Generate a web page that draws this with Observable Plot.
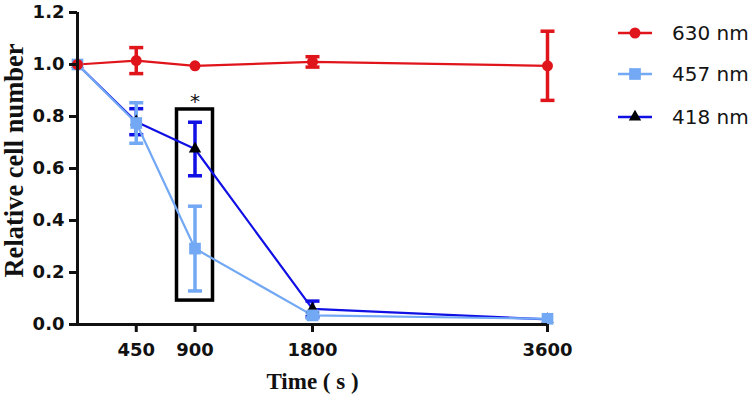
<!DOCTYPE html>
<html><head><meta charset="utf-8">
<script src="https://cdn.jsdelivr.net/npm/d3@7"></script>
<script src="https://cdn.jsdelivr.net/npm/@observablehq/plot@0.6"></script>
<style>
html,body{margin:0;padding:0;background:#fff;}
#wrap{position:relative;width:755px;height:401px;overflow:hidden;}
.item{position:absolute;left:608px;height:30px;display:flex;align-items:center;font-family:"DejaVu Sans";font-size:20px;color:#141414;white-space:nowrap;}
.item svg{margin-right:20px;}
</style></head><body><div id="wrap"></div>
<script>
// ---- data ----
const times = [0, 450, 900, 1800, 3600];
const xTicks = [450, 900, 1800, 3600];
const yTicks = [0, 0.2, 0.4, 0.6, 0.8, 1.0, 1.2];
const seriesNames = ["630 nm", "457 nm", "418 nm"];
const mean630 = [1.0, 1.015, 0.995, 1.01, 0.995];
const err630  = [0, 0.05, 0, 0.02, 0.133];
const mean457 = [1.0, 0.775, 0.292, 0.035, 0.022];
const err457  = [0, 0.078, 0.163, 0.01, 0];
const mean418 = [1.0, 0.78, 0.675, 0.06, 0.02];
const err418  = [0, 0.05, 0.103, 0.03, 0];
const highlightTime = [900];
const highlightLow = [0.092];
const highlightHigh = [0.827];
const highlightLabel = ["*"];
const xLabel = "Time ( s )";
const yLabel = "Relative cell number";

// ---- styles ----
const styles = {
  "630 nm": {color: "#e0141b", symbol: "circle", fill: "#e0141b", r: 5.5},
  "457 nm": {color: "#72a8f4", symbol: "square", fill: "#72a8f4", r: 6.6},
  "418 nm": {color: "#1010e4", symbol: "triangle", fill: "#000000", r: 4.6}
};
const means = {"630 nm": mean630, "457 nm": mean457, "418 nm": mean418};
const errs = {"630 nm": err630, "457 nm": err457, "418 nm": err418};
const drawOrder = ["418 nm", "457 nm", "630 nm"];

const rows = {};
for (const s of seriesNames) {
  rows[s] = times.map((t, i) => ({time: t, v: means[s][i], err: errs[s][i], series: s}));
}
const highlight = highlightTime.map((t, i) => ({time: t, low: highlightLow[i], high: highlightHigh[i], label: highlightLabel[i]}));

const capSymbol = {draw(ctx, size) { const w = Math.sqrt(size / Math.PI); ctx.moveTo(-w, 0); ctx.lineTo(w, 0); }};

const marks = [];
marks.push(Plot.rect(highlight, {x1: "time", x2: "time", y1: "low", y2: "high", insetLeft: -18, insetRight: -18, fill: "none", stroke: "#000", strokeWidth: 3.5}));
for (const s of drawOrder) {
  const st = styles[s];
  const e = rows[s].filter(d => d.err > 0);
  marks.push(Plot.ruleX(e, {x: "time", y1: d => d.v - d.err, y2: d => d.v + d.err, stroke: st.color, strokeWidth: 3.5}));
  const caps = e.flatMap(d => [{time: d.time, y: d.v - d.err}, {time: d.time, y: d.v + d.err}]);
  marks.push(Plot.dot(caps, {x: "time", y: "y", symbol: capSymbol, r: 7, fill: "none", stroke: st.color, strokeWidth: 3.5}));
}
for (const s of drawOrder) {
  const st = styles[s];
  marks.push(Plot.line(rows[s], {x: "time", y: "v", stroke: st.color, strokeWidth: 2.2}));
}
for (const s of drawOrder) {
  const st = styles[s];
  marks.push(Plot.dot(rows[s], {x: "time", y: "v", symbol: st.symbol, r: st.r, fill: st.fill, stroke: "none"}));
}
marks.push(Plot.text(highlight, {x: "time", y: "high", text: "label", dy: -1, lineAnchor: "bottom", fontSize: 20, fontFamily: "DejaVu Sans", fill: "#111"}));

// axes
marks.push(Plot.ruleX([0], {stroke: "#111", strokeWidth: 3, insetBottom: -1.5}));
marks.push(Plot.ruleY([0], {stroke: "#111", strokeWidth: 3, insetLeft: -1.5}));
marks.push(Plot.axisY({ticks: yTicks, tickSize: 8, tickPadding: 5, tickFormat: d3.format(".1f"), stroke: "#111", strokeWidth: 3, fill: "#111", fontSize: 18, fontWeight: "bold", fontFamily: "DejaVu Sans", label: null}));
marks.push(Plot.axisX({ticks: xTicks, tickSize: 8, tickPadding: 11, tickFormat: d => String(d), stroke: "#111", strokeWidth: 3, fill: "#111", fontSize: 18, fontWeight: "bold", fontFamily: "DejaVu Sans", label: null}));
marks.push(Plot.text([xLabel], {frameAnchor: "bottom", dy: 64, lineAnchor: "bottom", textAnchor: "middle", fontSize: 23, fontWeight: "bold", fontFamily: "Liberation Serif", fill: "#111"}));
marks.push(Plot.text([yLabel], {frameAnchor: "left", rotate: -90, dx: -55, dy: -8, lineAnchor: "bottom", textAnchor: "middle", fontSize: 26.5, fontWeight: "bold", fontFamily: "Liberation Serif", fill: "#111"}));

const chart = Plot.plot({
  width: 755, height: 401,
  marginLeft: 77, marginRight: 208, marginTop: 12, marginBottom: 77,
  style: {background: "#fff", overflow: "visible"},
  x: {type: "linear", domain: [0, 3600], axis: null},
  y: {type: "linear", domain: [0, 1.2], axis: null},
  marks
});
const wrap = document.getElementById("wrap");
wrap.appendChild(chart);

// legend
const legendTop = [18, 59, 102];
seriesNames.forEach((s, i) => {
  const st = styles[s];
  const div = document.createElement("div");
  div.className = "item";
  div.style.top = legendTop[i] + "px";
  const svg = d3.create("svg").attr("width", 44).attr("height", 30);
  svg.append("line").attr("x1", 10).attr("x2", 44).attr("y1", 15).attr("y2", 15).attr("stroke", st.color).attr("stroke-width", 2.5);
  const sym = {circle: d3.symbolCircle, square: d3.symbolSquare, triangle: d3.symbolTriangle}[st.symbol];
  svg.append("path").attr("transform", "translate(27,15)").attr("d", d3.symbol(sym, Math.PI * st.r * st.r)()).attr("fill", st.fill);
  div.appendChild(svg.node());
  const span = document.createElement("span");
  span.textContent = s;
  div.appendChild(span);
  wrap.appendChild(div);
});
</script></body></html>
